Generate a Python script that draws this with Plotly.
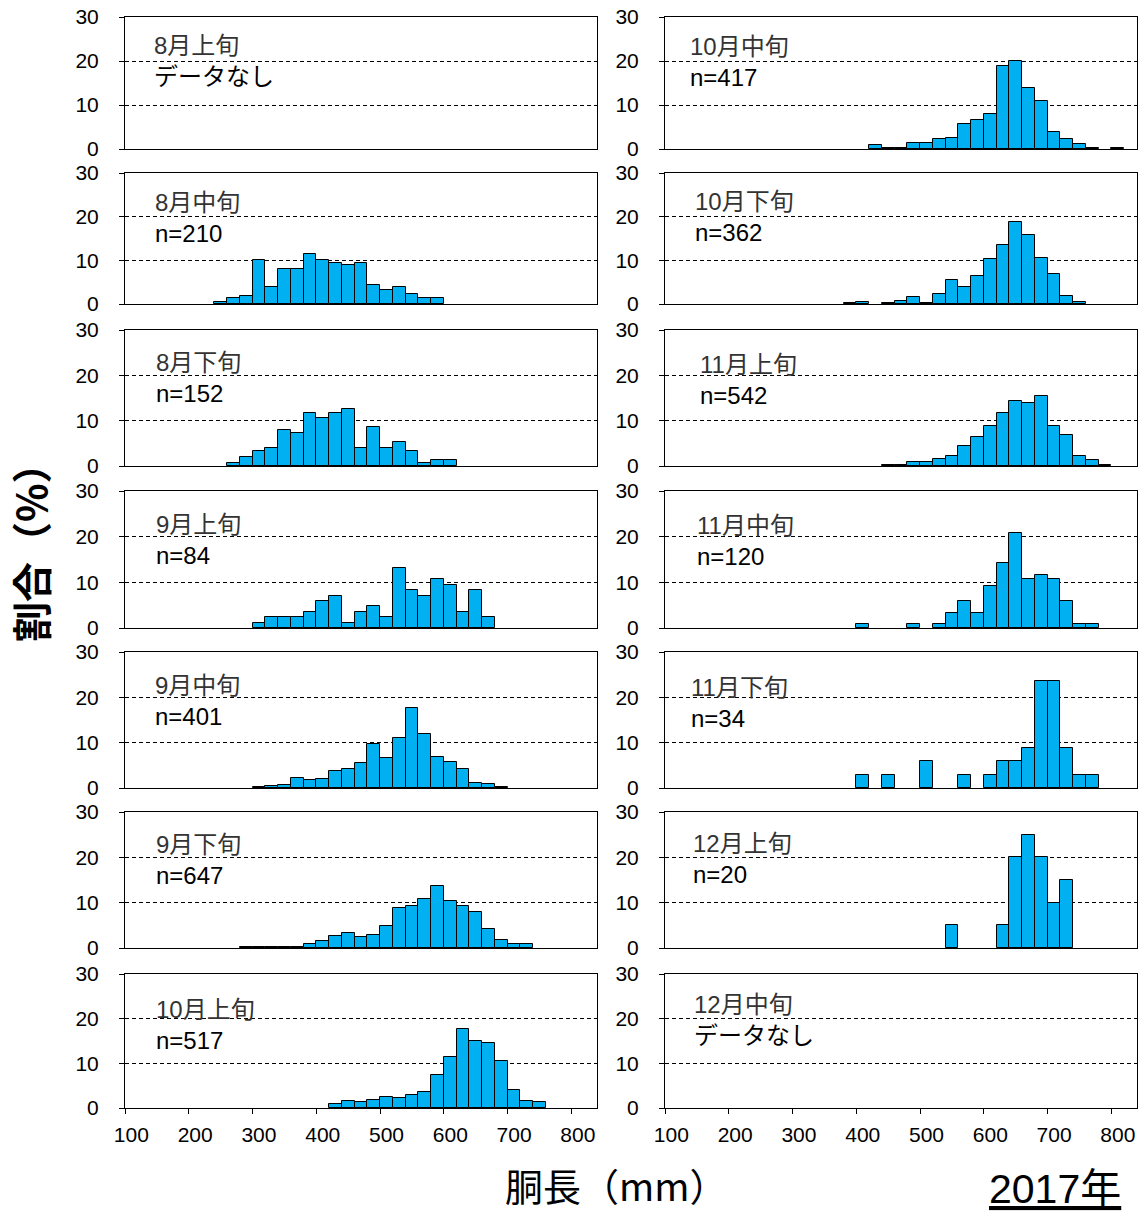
import plotly.graph_objects as go

# ---------------- data ----------------
length_bins = [100, 120, 140, 160, 180, 200, 220, 240, 260, 280, 300, 320, 340, 360,
               380, 400, 420, 440, 460, 480, 500, 520, 540, 560, 580, 600, 620, 640,
               660, 680, 700, 720, 740, 760, 780, 800, 820]
tick_labels = [100, 200, 300, 400, 500, 600, 700, 800]
y_ticks = [0, 10, 20, 30]

pct_aug_early = []  # データなし
pct_aug_mid = [0, 0, 0, 0, 0, 0, 0, 0.5, 1.4, 1.9, 10.0, 3.8, 8.1, 8.1, 11.4, 10.0, 9.5, 9.0,
               9.5, 4.3, 3.3, 3.8, 2.4, 1.4, 1.4, 0, 0, 0, 0, 0, 0, 0, 0, 0, 0, 0, 0]
pct_aug_late = [0, 0, 0, 0, 0, 0, 0, 0, 0.7, 2.0, 3.3, 3.9, 7.9, 7.2, 11.8, 10.5, 11.8, 12.5,
                3.9, 8.6, 3.9, 5.3, 3.3, 0.7, 1.3, 1.3, 0, 0, 0, 0, 0, 0, 0, 0, 0, 0, 0]
pct_sep_early = [0, 0, 0, 0, 0, 0, 0, 0, 0, 0, 1.2, 2.4, 2.4, 2.4, 3.6, 6.0, 7.1, 1.2, 3.6,
                 4.8, 2.4, 13.1, 8.3, 7.1, 10.7, 9.5, 3.6, 8.3, 2.4, 0, 0, 0, 0, 0, 0, 0, 0]
pct_sep_mid = [0, 0, 0, 0, 0, 0, 0, 0, 0, 0, 0.2, 0.5, 0.7, 2.1, 1.7, 2.0, 3.7, 4.2, 5.5, 9.7,
               6.7, 11.0, 17.7, 12.0, 6.9, 5.7, 4.2, 1.2, 0.9, 0.2, 0, 0, 0, 0, 0, 0, 0]
pct_sep_late = [0, 0, 0, 0, 0, 0, 0, 0, 0, 0.15, 0.15, 0.15, 0.15, 0.3, 0.8, 1.6, 2.6, 3.2,
                2.4, 2.9, 4.8, 8.8, 9.3, 10.8, 13.7, 10.3, 9.3, 8.0, 4.3, 1.8, 0.8, 0.8,
                0, 0, 0, 0, 0]
pct_oct_early = [0, 0, 0, 0, 0, 0, 0, 0, 0, 0, 0, 0, 0, 0, 0, 0, 0.8, 1.6, 1.3, 1.9, 2.5, 2.2,
                 2.9, 3.5, 7.3, 11.5, 17.7, 15.1, 14.6, 10.5, 4.0, 1.6, 1.3, 0, 0, 0, 0]
pct_oct_mid = [0, 0, 0, 0, 0, 0, 0, 0, 0, 0, 0, 0, 0, 0, 0, 0, 0.96, 0.24, 0.24, 1.4, 1.4,
               2.2, 2.5, 5.7, 6.7, 8.0, 18.9, 20.1, 13.9, 10.8, 3.8, 2.2, 1.2, 0.24, 0,
               0.24, 0]
pct_oct_late = [0, 0, 0, 0, 0, 0, 0, 0, 0, 0, 0, 0, 0, 0, 0.28, 0.55, 0, 0.28, 0.7, 1.7, 0.28,
                2.2, 5.5, 3.9, 6.3, 10.2, 13.5, 18.8, 15.7, 10.5, 6.9, 1.9, 0.55, 0, 0, 0, 0]
pct_nov_early = [0, 0, 0, 0, 0, 0, 0, 0, 0, 0, 0, 0, 0, 0, 0, 0, 0, 0.18, 0.18, 0.9, 0.9, 1.5,
                 2.2, 4.4, 6.3, 8.9, 11.6, 14.4, 13.8, 15.5, 8.9, 6.8, 2.2, 1.3, 0.2, 0, 0]
pct_nov_mid = [0, 0, 0, 0, 0, 0, 0, 0, 0, 0, 0, 0, 0, 0, 0, 0.83, 0, 0, 0, 0.83, 0, 0.83,
               3.33, 5.83, 3.33, 9.17, 14.17, 20.83, 10.83, 11.67, 10.83, 5.83, 0.83, 0.83,
               0, 0, 0]
pct_nov_late = [0, 0, 0, 0, 0, 0, 0, 0, 0, 0, 0, 0, 0, 0, 0, 2.94, 0, 2.94, 0, 0, 5.88, 0, 0,
                2.94, 0, 2.94, 5.88, 5.88, 8.82, 23.53, 23.53, 8.82, 2.94, 2.94, 0, 0, 0]
pct_dec_early = [0, 0, 0, 0, 0, 0, 0, 0, 0, 0, 0, 0, 0, 0, 0, 0, 0, 0, 0, 0, 0, 0, 5, 0, 0, 0,
                 5, 20, 25, 20, 10, 15, 0, 0, 0, 0, 0]
pct_dec_mid = []  # データなし

period_labels = ["8月上旬", "8月中旬", "8月下旬", "9月上旬", "9月中旬", "9月下旬", "10月上旬",
                 "10月中旬", "10月下旬", "11月上旬", "11月中旬", "11月下旬", "12月上旬", "12月中旬"]
sample_labels = ["データなし", "n=210", "n=152", "n=84", "n=401", "n=647", "n=517",
                 "n=417", "n=362", "n=542", "n=120", "n=34", "n=20", "データなし"]
series = [pct_aug_early, pct_aug_mid, pct_aug_late, pct_sep_early, pct_sep_mid, pct_sep_late,
          pct_oct_early, pct_oct_mid, pct_oct_late, pct_nov_early, pct_nov_mid, pct_nov_late,
          pct_dec_early, pct_dec_mid]

# ---------------- layout geometry (page pixels) ----------------
W, H = 1144, 1214


def px(x):
    return min(1.0, max(0.0, x / W))


def py(y):
    return min(1.0, max(0.0, 1 - y / H))


col_x = [(125, 597), (665, 1137)]
row_y = [(17, 149), (173, 304), (330, 466), (491, 628), (652, 788), (812, 948), (974, 1108)]
# label positions (x, y_title, y_n) per panel
label_pos = [(152, 45, 77), (153, 202, 233), (154, 362, 393), (154, 524, 556), (153, 685, 717),
             (154, 844, 875), (154, 1010, 1040),
             (688, 47, 78), (693, 202, 232), (698, 364, 395), (695, 525, 557), (689, 688, 718),
             (691, 843, 875), (692, 1003, 1037)]

FONT = "Liberation Sans, Arial, Noto Sans CJK JP, sans-serif"
CJK = "Noto Sans CJK JP, Liberation Sans, sans-serif"
BAR = "#00B0F0"

fig = go.Figure()
layout = {}
annotations = []

for k in range(14):
    col = k // 7
    row = k % 7
    n = k + 1
    xa = "x" if n == 1 else f"x{n}"
    ya = "y" if n == 1 else f"y{n}"
    vals = series[k]
    if vals:
        xs = [b for b, v in zip(length_bins, vals) if v > 0]
        ys = [v for v in vals if v > 0]
    else:
        xs, ys = [], []
    fig.add_trace(go.Bar(x=xs, y=ys, width=20, xaxis=xa, yaxis=ya,
                         marker=dict(color=BAR, line=dict(color="black", width=1)),
                         showlegend=False, hoverinfo="x+y"))
    x0, x1 = col_x[col]
    yt, yb = row_y[row]
    bottom = row == 6
    layout["xaxis" if n == 1 else f"xaxis{n}"] = dict(
        domain=[px(x0), px(x1)], anchor=ya, range=[90, 830], automargin=False,
        showline=True, mirror=True, linecolor="black", linewidth=1,
        showgrid=False, zeroline=False,
        tickmode="array", tickvals=tick_labels, ticktext=[str(t) for t in tick_labels],
        showticklabels=bottom, ticks="",
        ticklabelstandoff=8,
        minor=dict(ticks="outside" if bottom else "", tick0=90, dtick=100, ticklen=5,
                   tickcolor="black", showgrid=False),
        tickfont=dict(family=FONT, size=21, color="black"),
    )
    layout["yaxis" if n == 1 else f"yaxis{n}"] = dict(
        domain=[py(yb), py(yt)], anchor=xa, range=[0, 30], automargin=False,
        tickmode="array", tickvals=y_ticks,
        showline=True, mirror=True, linecolor="black", linewidth=1,
        showgrid=True, gridcolor="black", gridwidth=1, griddash="4px,3px",
        zeroline=False, ticks="outside", ticklen=5, tickcolor="black",
        ticklabelstandoff=16,
        tickfont=dict(family=FONT, size=21, color="black"),
    )
    lx, ly1, ly2 = label_pos[k]
    label_text = (f"<span style='color:#333333'>{period_labels[k]}</span><br>"
                  f"{sample_labels[k]}")
    annotations.append(dict(text=label_text, xref="paper", yref="paper",
                            x=px(lx), y=py((ly1 + ly2) / 2), xanchor="left",
                            yanchor="middle", align="left", showarrow=False,
                            font=dict(family=FONT, size=24, color="black")))

annotations.append(dict(text="<b>割合（%）</b>", xref="paper", yref="paper",
                        x=px(30), y=py(543), textangle=-90, showarrow=False,
                        xanchor="center", yanchor="middle",
                        font=dict(family=CJK, size=40, color="black")))
annotations.append(dict(text="胴長（mm）", xref="paper", yref="paper",
                        x=px(616), y=py(1184), showarrow=False,
                        xanchor="center", yanchor="middle",
                        font=dict(family=CJK, size=38, color="black")))
annotations.append(dict(text="<u>2017年</u>", xref="paper", yref="paper",
                        x=px(1055), y=py(1189), showarrow=False,
                        xanchor="center", yanchor="middle",
                        font=dict(family=FONT, size=41, color="black")))

fig.update_layout(**layout)
fig.update_layout(width=W, height=H,
                  margin=dict(l=0, r=0, t=0, b=0, pad=0, autoexpand=False),
                  paper_bgcolor="white", plot_bgcolor="white",
                  annotations=annotations, bargap=0)

fig.write_html("out.html", config={"displayModeBar": False},
               post_script="document.body.style.margin='0';document.body.style.overflow='hidden';")
